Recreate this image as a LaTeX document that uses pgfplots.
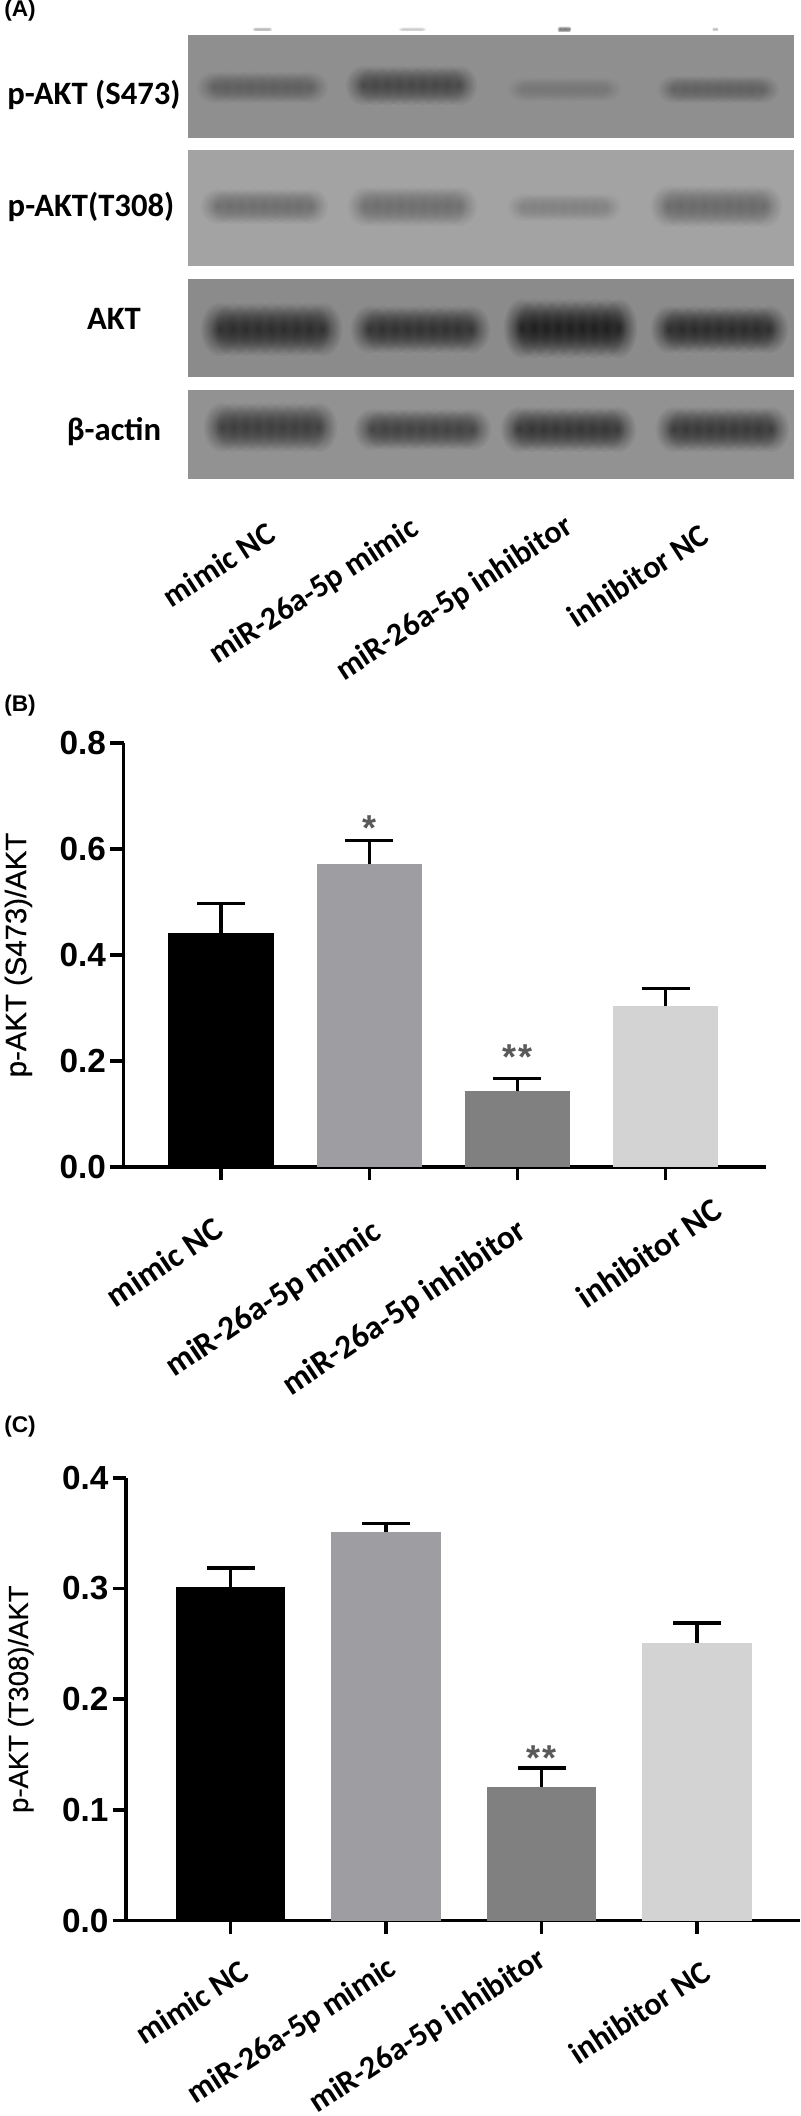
\documentclass[border=0pt]{standalone}
\usepackage{fontspec}
\setmainfont{Liberation Sans}
\newfontfamily\carlito{Carlito}
\newfontfamily\midsans[FakeBold=0.5]{Liberation Sans}
\usepackage{pgfplots}
\pgfplotsset{compat=1.18}
\usetikzlibrary{fadings}
\pgfdeclareplotmark{blank}{}
\pgfdeclareradialshading{bandmask}{\pgfpoint{0bp}{0bp}}{color(0bp)=(pgftransparent!15); color(25bp)=(pgftransparent!100); color(50bp)=(pgftransparent!100)}
\pgfdeclarefading{bandfade}{\pgfuseshading{bandmask}}
\definecolor{barB}{RGB}{158,158,162}
\definecolor{barC}{RGB}{128,128,128}
\definecolor{barD}{RGB}{211,211,211}
\pgfplotsset{
  panelbars/.style={
    scale only axis, ybar, bar shift=0pt, ymin=0,
    axis x line*=bottom, axis y line*=left,
    axis line style={line width=2.6pt},
    x axis line style={shorten <=-9pt},
    tick style={line width=2.6pt, black}, tick align=outside,
    major tick length=10pt,
    xtick={0,1,2,3}, xticklabels={mimic NC,miR-26a-5p mimic,miR-26a-5p inhibitor,inhibitor NC},
    /pgf/number format/assume math mode=true,
    yticklabel style={font=\bfseries\fontsize{25}{25}\selectfont, /pgf/number format/fixed, /pgf/number format/fixed zerofill, /pgf/number format/precision=1, inner sep=3pt},
    ylabel style={font=\midsans\fontsize{22}{22}\selectfont},
    clip=false,
  },
  errs/.style={error bars/.cd, y dir=plus, y explicit, error bar style={line width=2.6pt, black}, error mark options={rotate=90, line width=2.6pt, black, mark size=18pt}},
}
\begin{document}
\begin{tikzpicture}
\useasboundingbox (0,0) rectangle (600pt,1587pt);
% panel A, drawn in the pixel coordinates of the page
\begin{axis}[at={(0,0)}, anchor=south west, scale only axis, width=600pt, height=1587pt,
  xmin=0, xmax=800, ymin=0, ymax=2116, y dir=reverse, hide axis, clip=false]
\addplot[fill={rgb,255:red,143;green,143;blue,143}, draw=none] coordinates {(188,35) (794,35) (794,138) (188,138)} -- cycle;
\addplot[fill={rgb,255:red,163;green,163;blue,163}, draw=none] coordinates {(188,150) (794,150) (794,266) (188,266)} -- cycle;
\addplot[fill={rgb,255:red,139;green,139;blue,139}, draw=none] coordinates {(188,279) (794,279) (794,377) (188,377)} -- cycle;
\addplot[fill={rgb,255:red,146;green,146;blue,146}, draw=none] coordinates {(188,390) (794,390) (794,479) (188,479)} -- cycle;
% bands: centre, half width, half height, grey level
\addplot[scatter, only marks, mark=blank,
  visualization depends on={value \thisrow{a}\as\ba},
  visualization depends on={value \thisrow{b}\as\bb},
  visualization depends on={value \thisrow{in}\as\bin},
  scatter/@pre marker code/.code={\definecolor{bandin}{gray}{\bin}%
    \foreach \d in {-0.72,-0.54,-0.36,-0.18,0,0.18,0.36,0.54,0.72} {
      \fill[bandin, path fading=bandfade, fit fading=true] ({\d*\ba*0.75pt},0) ellipse ({0.28*\ba*0.75pt} and {\bb*0.75pt});
    }},
  scatter/@post marker code/.code={}]
table {
x y a b in
262 29 10 2 0.70
412 29 14 2 0.78
564 29 7 3 0.45
715 29 3 2 0.75
262 87 66 16 0.36
411 85 66 20 0.26
564 89 57 12 0.46
718 89 61 14 0.37
264 206 64 18 0.42
412 206 65 20 0.42
564 207 57 14 0.50
716 206 66 21 0.40
271 329 71 27 0.15
420 329 70 24 0.17
570 328 67 30 0.09
719 329 69 24 0.14
270 427 67 25 0.22
422 429 69 21 0.24
568 429 68 23 0.19
722 429 67 23 0.20
};
\node[font=\bfseries\fontsize{17}{17}\selectfont, anchor=west, inner sep=0] at (axis cs:4,11) {(A)};
\node[font=\bfseries\fontsize{17}{17}\selectfont, anchor=west, inner sep=0] at (axis cs:4,706) {(B)};
\node[font=\bfseries\fontsize{17}{17}\selectfont, anchor=west, inner sep=0] at (axis cs:4,1427) {(C)};
\node[font=\carlito\bfseries\fontsize{24.5}{24.5}\selectfont] at (axis cs:94,95) {p-AKT (S473)};
\node[font=\carlito\bfseries\fontsize{24.5}{24.5}\selectfont] at (axis cs:91,207) {p-AKT(T308)};
\node[font=\carlito\bfseries\fontsize{24.5}{24.5}\selectfont] at (axis cs:114,319) {AKT};
\node[font=\carlito\bfseries\fontsize{24.5}{24.5}\selectfont] at (axis cs:114,432) {β-actin};
\node[font=\carlito\bfseries\fontsize{24}{24}\selectfont, rotate=33, anchor=east, inner sep=0] at (axis cs:272,530) {mimic NC};
\node[font=\carlito\bfseries\fontsize{24}{24}\selectfont, rotate=33, anchor=east, inner sep=0] at (axis cs:416,526) {miR-26a-5p mimic};
\node[font=\carlito\bfseries\fontsize{24}{24}\selectfont, rotate=33, anchor=east, inner sep=0] at (axis cs:570,524) {miR-26a-5p inhibitor};
\node[font=\carlito\bfseries\fontsize{24}{24}\selectfont, rotate=33, anchor=east, inner sep=0] at (axis cs:705,532) {inhibitor NC};
\end{axis}
% panel B
\begin{axis}[panelbars, at={(92.7pt,711.75pt)}, anchor=south west, width=482pt, height=318pt,
  xmin=-0.658, xmax=3.68, ymax=0.8, ytick={0,0.2,0.4,0.6,0.8}, bar width=79pt,
  xticklabel style={xshift={{-9,1,-2,46}[\ticknum]*0.75pt}, yshift={{-35,-37,-36,-16}[\ticknum]*0.75pt},
    font=\carlito\bfseries\fontsize{25}{25}\selectfont, rotate=34, anchor=north east, inner sep=0},
  ylabel={p-AKT (S473)/AKT}, ylabel style={at={(axis description cs:-0.135,0.5)}}]
\addplot[fill=black, draw=none, errs] coordinates {(0,0.442) +- (0,0.055)};
\addplot[fill=barB, draw=none, errs] coordinates {(1,0.571) +- (0,0.045)};
\addplot[fill=barC, draw=none, errs] coordinates {(2,0.1425) +- (0,0.024)};
\addplot[fill=barD, draw=none, errs] coordinates {(3,0.303) +- (0,0.034)};
\node[font=\bfseries\fontsize{27}{27}\selectfont, text=black!65] at (axis cs:1,0.64) {*};
\node[font=\bfseries\fontsize{27}{27}\selectfont, text=black!65] at (axis cs:2,0.208) {*\kern1pt*};
\end{axis}
% panel C
\begin{axis}[panelbars, at={(94.5pt,146.6pt)}, anchor=south west, width=505.5pt, height=332pt,
  xmin=-0.672, xmax=3.662, ymax=0.4, ytick={0,0.1,0.2,0.3,0.4}, bar width=82pt,
  xticklabel style={xshift={{8,0,-6,3}[\ticknum]*0.75pt}, yshift={{-24,-20,-11,-25}[\ticknum]*0.75pt},
    font=\carlito\bfseries\fontsize{24}{24}\selectfont, rotate=33, anchor=north east, inner sep=0},
  ylabel={p-AKT (T308)/AKT}, ylabel style={font=\midsans\fontsize{20.6}{20.6}\selectfont, at={(axis description cs:-0.13,0.5)}}]
\addplot[fill=black, draw=none, errs] coordinates {(0,0.3015) +- (0,0.017)};
\addplot[fill=barB, draw=none, errs] coordinates {(1,0.351) +- (0,0.008)};
\addplot[fill=barC, draw=none, errs] coordinates {(2,0.121) +- (0,0.017)};
\addplot[fill=barD, draw=none, errs] coordinates {(3,0.251) +- (0,0.018)};
\node[font=\bfseries\fontsize{27}{27}\selectfont, text=black!65] at (axis cs:2,0.147) {*\kern1pt*};
\end{axis}
\end{tikzpicture}
\end{document}
